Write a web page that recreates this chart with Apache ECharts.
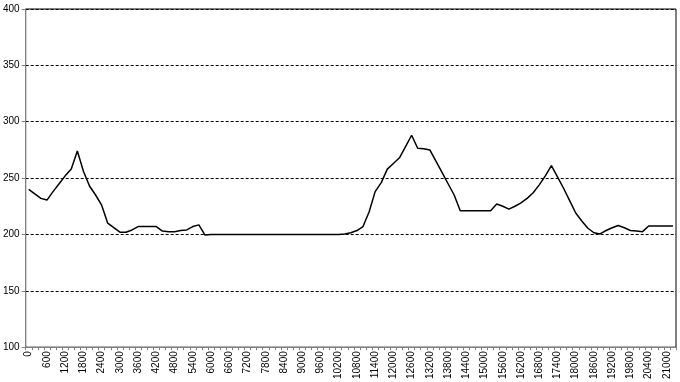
<!DOCTYPE html>
<html>
<head>
<meta charset="utf-8">
<script src="https://cdn.jsdelivr.net/npm/echarts@6/dist/echarts.min.js"></script>
<style>
	html, body { margin: 0; padding: 0; background: #fff; }
	#chart { width: 680px; height: 382px; }
</style>
</head>
<body>
<div id="chart"></div>
<script>
	// categories: 0, 200, 400 ... 21200
	const categories = [
		'0','200','400','600','800','1000','1200','1400','1600','1800',
		'2000','2200','2400','2600','2800','3000','3200','3400','3600','3800',
		'4000','4200','4400','4600','4800','5000','5200','5400','5600','5800',
		'6000','6200','6400','6600','6800','7000','7200','7400','7600','7800',
		'8000','8200','8400','8600','8800','9000','9200','9400','9600','9800',
		'10000','10200','10400','10600','10800','11000','11200','11400','11600','11800',
		'12000','12200','12400','12600','12800','13000','13200','13400','13600','13800',
		'14000','14200','14400','14600','14800','15000','15200','15400','15600','15800',
		'16000','16200','16400','16600','16800','17000','17200','17400','17600','17800',
		'18000','18200','18400','18600','18800','19000','19200','19400','19600','19800',
		'20000','20200','20400','20600','20800','21000','21200'
	]
	const values = [
		240, 236, 232, 230.5, 238, 245, 252, 258, 274, 256,
		243, 235, 226, 210, 206, 202, 202, 204, 207, 207,
		207, 207, 203, 202.5, 202.5, 203.5, 204, 207, 208.5, 199.5,
		200, 200, 200, 200, 200, 200, 200, 200, 200, 200,
		200, 200, 200, 200, 200, 200, 200, 200, 200, 200,
		200, 200, 200.5, 201.5, 203.5, 207, 220, 238, 246, 258,
		263, 268, 278, 288, 276.5, 276, 275, 265, 255, 245,
		235, 221, 221, 221, 221, 221, 221, 227, 225, 222.5,
		225, 228, 232, 237, 244, 252, 261, 251, 241, 230,
		219, 212, 205.5, 201.5, 200.5, 203.5, 206, 208, 206, 203.5,
		203, 202.5, 207.5, 207.5, 207.5, 207.5, 207.5
	]
	const yMin = 100
	const yMax = 400
	const yStep = 50

	let mychart = echarts.init(document.getElementById('chart'))
	let option = {
		animation: false,
		textStyle: { fontFamily: 'Liberation Sans, Arial, sans-serif' },
		grid: {
			left: 24, right: 4, top: 9, bottom: 32,
			show: true, borderColor: '#000', borderWidth: 1
		},
		xAxis: {
			type: 'category',
			data: categories,
			boundaryGap: true,
			axisLine: { lineStyle: { color: '#808080', width: 1 } },
			axisTick: { show: true, interval: 0, length: 3, lineStyle: { color: '#808080' } },
			axisLabel: {
				interval: 2, rotate: 90, fontSize: 10, color: '#000', margin: 4
			},
			splitLine: { show: false }
		},
		yAxis: {
			type: 'value',
			min: yMin, max: yMax, interval: yStep,
			axisLine: { show: true, lineStyle: { color: '#808080', width: 1 } },
			axisTick: { show: true, length: 4, lineStyle: { color: '#808080' } },
			axisLabel: { fontSize: 10, color: '#000', margin: 6 },
			splitLine: {
				show: true,
				lineStyle: { color: '#000', type: [3, 2], width: 1 }
			}
		},
		series: [{
			type: 'line',
			data: values,
			symbol: 'none',
			smooth: false,
			lineStyle: { color: '#000', width: 1.5 }
		}]
	}
	mychart.setOption(option)
</script>
</body>
</html>
